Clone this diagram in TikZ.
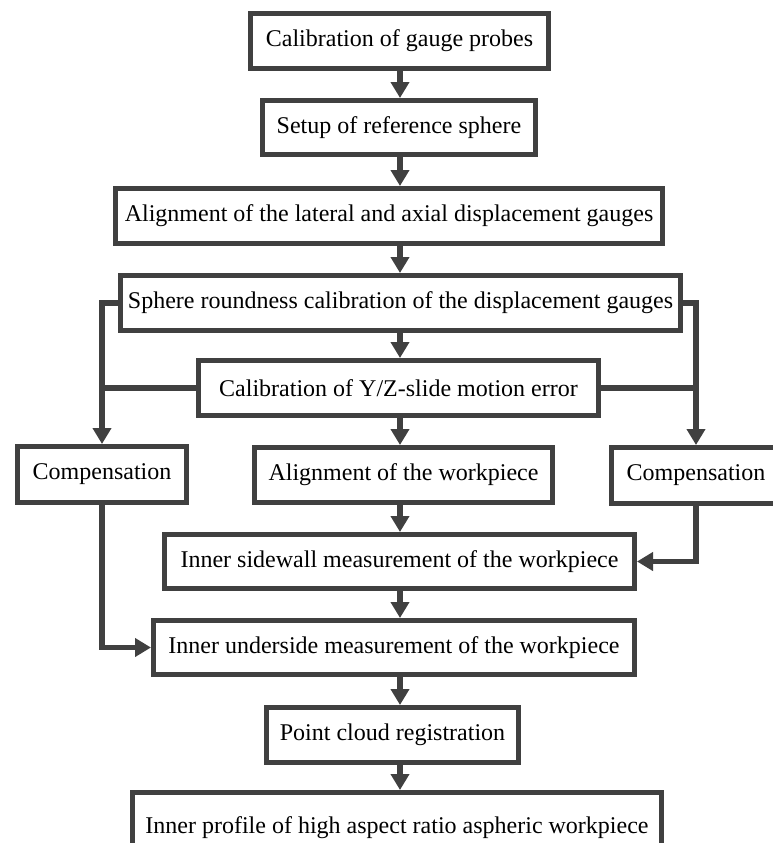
\documentclass[tikz,border=0pt]{standalone}
\usepackage{fontspec}
\setmainfont{Liberation Serif}
\usetikzlibrary{arrows.meta}
\definecolor{ink}{HTML}{404040}
\begin{document}
\begin{tikzpicture}[x=0.75pt, y=-0.75pt,
            stage/.style 2 args={draw=ink, line width=3.75pt, inner sep=0pt,
                minimum width=#1*0.75pt, minimum height=#2*0.75pt,
                font=\fontsize{18}{21}\selectfont},
            link/.style={draw=ink, line width=4pt},
            flow/.style={link, -{Triangle[length=12pt, width=13.5pt]}}]
            \path[use as bounding box, clip] (0,0) rectangle (773,843);
            \coordinate (axis) at (400,0);
            \node[stage={298}{55}] (probes) at (399.5,41) {Calibration of gauge probes};
            \node[stage={273}{54}] (sphereset) at (399,127.5) {Setup of reference sphere};
            \node[stage={547}{55}] (gauges) at (389,216) {Alignment of the lateral and axial displacement gauges};
            \node[stage={560}{55}] (roundness) at (400.5,303) {Sphere roundness calibration of the displacement gauges};
            \node[stage={400}{55}] (slide) at (398.5,388) {Calibration of Y/Z-slide motion error};
            \node[stage={169}{56}] (compleft) at (102,474.5) {Compensation};
            \node[stage={298}{55}] (workpiece) at (403.5,475) {Alignment of the workpiece};
            \node[stage={169}{56}] (compright) at (696,475.5) {Compensation};
            \node[stage={470}{54}] (sidewall) at (399.5,561.5) {Inner sidewall measurement of the workpiece};
            \node[stage={481}{54}] (underside) at (394,647.5) {Inner underside measurement of the workpiece};
            \node[stage={252}{55}] (cloud) at (392.5,735) {Point cloud registration};
            \node[stage={529}{71}] (profile) at (397,828) {Inner profile of high aspect ratio aspheric workpiece};
            \draw[flow] (probes.south -| axis) -- (sphereset.north -| axis);
            \draw[flow] (sphereset.south -| axis) -- (gauges.north -| axis);
            \draw[flow] (gauges.south -| axis) -- (roundness.north -| axis);
            \draw[flow] (roundness.south -| axis) -- (slide.north -| axis);
            \draw[flow] (slide.south -| axis) -- (workpiece.north -| axis);
            \draw[flow] (workpiece.south -| axis) -- (sidewall.north -| axis);
            \draw[flow] (sidewall.south -| axis) -- (underside.north -| axis);
            \draw[flow] (underside.south -| axis) -- (cloud.north -| axis);
            \draw[flow] (cloud.south -| axis) -- (profile.north -| axis);
            \draw[flow] (roundness.west) -| (compleft.north);
            \draw[link] (slide.west) -- (slide.west -| compleft.north);
            \draw[flow] (compleft.south) |- (underside.west);
            \draw[flow] (roundness.east) -| (compright.north);
            \draw[link] (slide.east) -- (slide.east -| compright.north);
            \draw[flow] (compright.south) |- (sidewall.east);
        \end{tikzpicture}
\end{document}
